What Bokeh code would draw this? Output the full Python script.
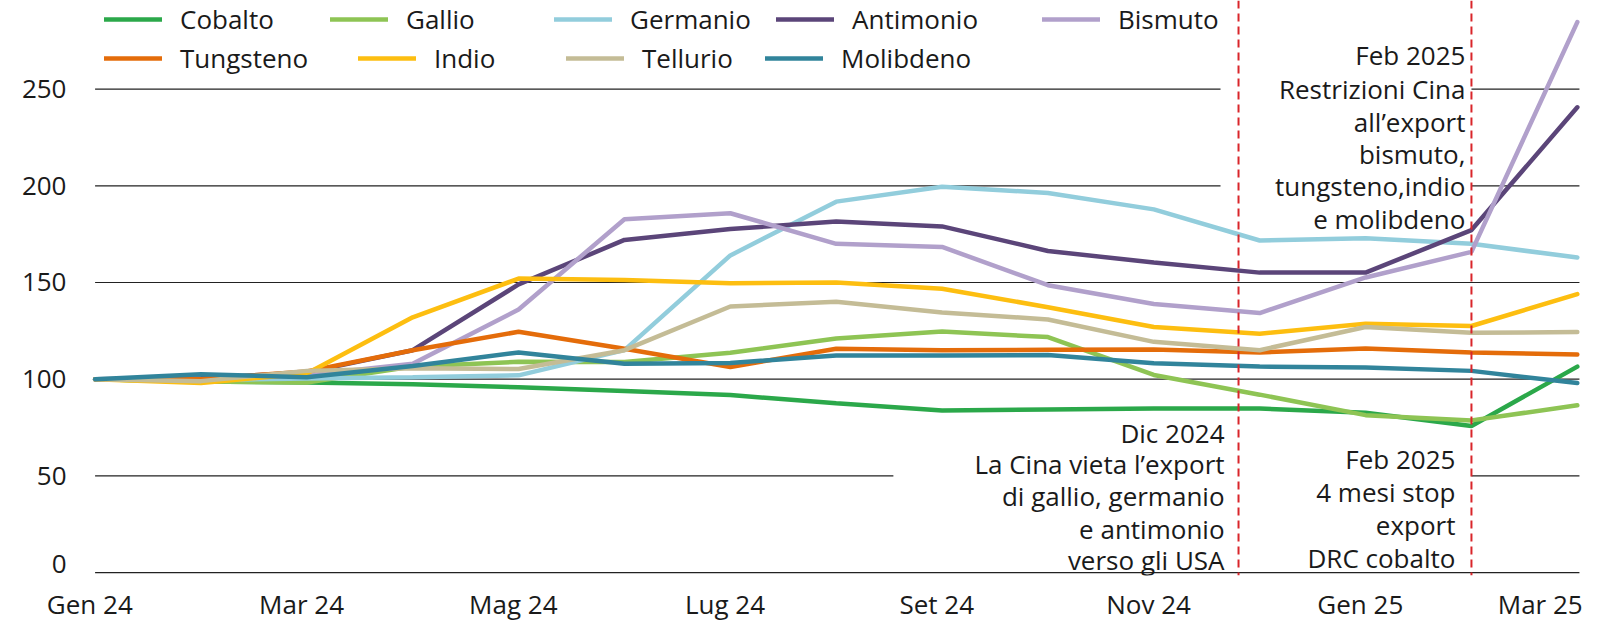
from bokeh.plotting import figure
from bokeh.models import Range1d, FixedTicker, Legend, LegendItem, Label, Span
from bokeh.embed import file_html
from bokeh.resources import INLINE

# months Gen 24 .. Mar 25 (index 100 = Gen 24)
months = ["Gen 24", "Feb 24", "Mar 24", "Apr 24", "Mag 24", "Giu 24", "Lug 24", "Ago 24",
          "Set 24", "Ott 24", "Nov 24", "Dic 24", "Gen 25", "Feb 25", "Mar 25"]
tick_labels = ["Gen 24", "Mar 24", "Mag 24", "Lug 24", "Set 24", "Nov 24", "Gen 25", "Mar 25"]

cobalto = [100, 98.8, 98.3, 97.4, 95.8, 93.9, 91.8, 87.5, 83.8, 84.3, 84.8, 84.8, 82.6, 75.8, 106.5]
gallio = [100, 98.8, 98.3, 106.5, 109, 108.9, 113.7, 121, 124.6, 121.8, 102.2, 92, 81.4, 78.7, 86.5]
germanio = [100, 99.6, 100.4, 101, 102, 115, 164, 191.8, 199.5, 196.3, 187.8, 171.7, 172.9, 170, 162.9]
antimonio = [100, 100.5, 103.5, 115, 149, 172, 177.6, 181.5, 179, 166.3, 160.3, 155.1, 155.1, 177.1, 240.6]
bismuto = [100, 100, 102, 108, 136, 182.7, 185.8, 170, 168.4, 148.6, 138.9, 134.2, 152.6, 165.8, 284.6]
tungsteno = [100, 100, 104, 115, 124.5, 115.7, 106.3, 115.7, 114.9, 115.2, 115.4, 113.8, 115.9, 113.8, 112.8]
indio = [100, 98, 103, 132, 152, 151.3, 149.6, 150, 146.8, 137.2, 127, 123.5, 128.7, 127.5, 144]
tellurio = [100, 99, 104.3, 105.6, 105.3, 115, 137.6, 140, 134.5, 130.9, 119.3, 115, 127, 124, 124.4]
molibdeno = [100, 102.5, 101, 106.8, 113.8, 108, 108.4, 112.3, 112.3, 112.5, 108.2, 106.5, 106, 104.3, 98]

names = ["Cobalto", "Gallio", "Germanio", "Antimonio", "Bismuto",
         "Tungsteno", "Indio", "Tellurio", "Molibdeno"]
values = [cobalto, gallio, germanio, antimonio, bismuto,
          tungsteno, indio, tellurio, molibdeno]

# event markers (month index) and their notes
events = [10.8, 13.0]
note_dic = ["Dic 2024", "La Cina vieta l’export", "di gallio, germanio", "e antimonio", "verso gli USA"]
note_feb_cobalto = ["Feb 2025", "4 mesi stop", "export", "DRC cobalto"]
note_feb_cina = ["Feb 2025", "Restrizioni Cina", "all’export", "bismuto,", "tungsteno,indio", "e molibdeno"]

colors = {"Cobalto": "#2BA84A", "Gallio": "#8EC454", "Germanio": "#92CDDC",
          "Antimonio": "#5B4579", "Bismuto": "#B1A0CB", "Tungsteno": "#E46C0A",
          "Indio": "#FDBE10", "Tellurio": "#C4BC96", "Molibdeno": "#31849B"}
FONT = "Open Sans"
FS = "26px"
TXT = "#1a1a1a"
RED = "#D9252A"

x = list(range(len(months)))

p = figure(width=1584, height=624, x_range=Range1d(-0.1, 14.03), y_range=Range1d(-1.5, 295.8),
           output_backend="svg", toolbar_location=None,
           min_border_left=84, min_border_right=4, min_border_top=0, min_border_bottom=46)
p.outline_line_color = None
p.xgrid.visible = False
p.ygrid.visible = False

# gridlines, broken where the notes sit
grid = [(250, 0, 10.63), (250, 13, 14.02), (200, 0, 10.63), (200, 13, 14.02),
        (150, 0, 14.02), (100, 0, 14.02), (50, 0, 7.54), (50, 13, 14.02), (0, 0, 14.02)]
p.segment(x0=[g[1] for g in grid], y0=[g[0] for g in grid],
          x1=[g[2] for g in grid], y1=[g[0] for g in grid],
          line_color="#222222", line_width=1.2)

renderers = {}
for name, vals in zip(names, values):
    renderers[name] = p.line(x, vals, line_color=colors[name], line_width=4.5, line_cap="round")

for ex in events:
    p.add_layout(Span(location=ex, dimension="height", line_color=RED,
                      line_width=2, line_dash="8 5"))

# one legend per entry, placed like the original (frame pixels)
leg_pos = {"Cobalto": (20, 538), "Gallio": (246, 538), "Germanio": (470, 538),
           "Antimonio": (692, 538), "Bismuto": (958, 538),
           "Tungsteno": (20, 499), "Indio": (274, 499), "Tellurio": (482, 499),
           "Molibdeno": (681, 499)}
for name in names:
    leg = Legend(items=[LegendItem(label=name, renderers=[renderers[name]])],
                 location=leg_pos[name], orientation="horizontal",
                 glyph_width=58, glyph_height=36, label_height=36, label_standoff=18,
                 padding=0, margin=0, spacing=0, border_line_color=None,
                 background_fill_alpha=0, label_text_font=FONT,
                 label_text_font_size=FS, label_text_color=TXT)
    p.add_layout(leg)

def add_note(lines, ex, ys, offset):
    for txt, yv in zip(lines, ys):
        p.add_layout(Label(x=ex, y=yv, x_offset=offset, text=txt, text_align="right",
                           text_baseline="middle", text_font=FONT, text_font_size=FS,
                           text_color=TXT))

add_note(note_dic, events[0], [72, 56, 39.8, 22.7, 6.5], -14)
add_note(note_feb_cobalto, events[1], [58.5, 41.5, 24.4, 7.3], -16)
add_note(note_feb_cina, events[1], [267.5, 250.3, 233.2, 216.6, 199.7, 183], -6)

# axes
xt = [months.index(t) - 0.05 for t in tick_labels[:-1]] + [13.65]
p.xaxis.ticker = FixedTicker(ticks=xt)
p.xaxis.major_label_overrides = {t: lab for t, lab in zip(xt, tick_labels)}
p.xaxis.major_label_standoff = 10
p.yaxis.ticker = FixedTicker(ticks=[4.5, 50, 100, 150, 200, 250])
p.yaxis.major_label_overrides = {4.5: "0"}
p.yaxis.major_label_standoff = 18
for ax in (p.xaxis[0], p.yaxis[0]):
    ax.axis_line_color = None
    ax.major_tick_line_color = None
    ax.minor_tick_line_color = None
    ax.major_tick_out = 0
    ax.major_tick_in = 0
    ax.minor_tick_out = 0
    ax.minor_tick_in = 0
    ax.major_label_text_font = FONT
    ax.major_label_text_font_size = FS
    ax.major_label_text_color = TXT

open("out.html", "w").write(file_html(p, INLINE))
